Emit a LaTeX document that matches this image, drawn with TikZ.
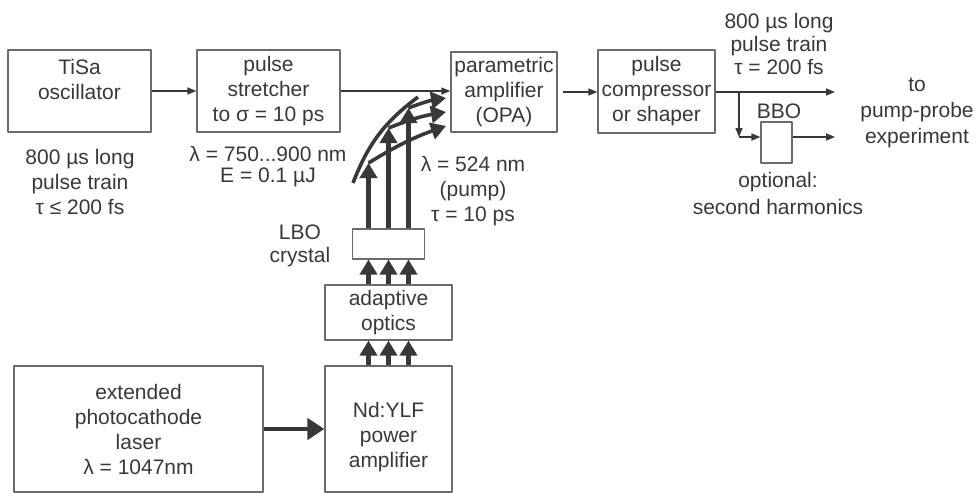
\documentclass[tikz,border=0pt]{standalone}
\usepackage{fontspec}
\setmainfont{Liberation Sans}
\usetikzlibrary{arrows.meta}
\definecolor{ink}{gray}{0.22}
\definecolor{rim}{gray}{0.42}
\tikzset{
  box/.style={draw=rim, line width=1.2pt, inner sep=0pt, align=center, text=ink},
  txt/.style={align=center, inner sep=0pt, text=ink},
  beam/.style={draw=ink, line width=1.4pt, -{Triangle[width=7pt,length=9pt]}},
  pump/.style={draw=ink, line width=4.2pt, line cap=butt, -{Triangle[width=17pt,length=15pt]}},
}
\begin{document}
\begin{tikzpicture}[x=1pt, y=-1pt, line join=round, font=\fontsize{21}{25}\selectfont]
  \useasboundingbox (0,0) rectangle (976,495);
  % the seed line, left to right
  \node[box, minimum width=143, minimum height=82] (tisa) at (79.5,91) {};
  \node[txt] (tisatxt) at (79.5,79) {TiSa\\oscillator};
  \node[box, minimum width=143, minimum height=82] (stretcher) at (268.5,91) {pulse\\stretcher\\to σ = 10 ps};
  \node[box, minimum width=106, minimum height=80] (opa) at (504,92) {parametric\\amplifier\\(OPA)};
  \node[box, minimum width=117, minimum height=83] (compressor) at (656.5,91.5) {pulse\\compressor\\or shaper};
  \node[box, minimum width=31, minimum height=41] (bbo) at (776.5,142.5) {};
  % the pump line, bottom up
  \node[box, minimum width=249, minimum height=126] (laser) at (138.5,429) {extended\\photocathode\\laser\\λ = 1047nm};
  \node[box, minimum width=127, minimum height=126] (ndylf) at (388.5,429) {};
  \node[txt] (ndylftxt) at (388.5,437) {Nd:YLF\\power\\amplifier};
  \node[box, minimum width=127, minimum height=55] (adaptive) at (388.5,312.5) {adaptive\\optics};
  \node[box, minimum width=72, minimum height=30] (lbo) at (388.5,244) {};
  % the free labels
  \node[txt] (trainin) at (80,182) {800 µs long\\pulse train\\τ ≤ 200 fs};
  \node[txt, font=\fontsize{21}{21}\selectfont] (specs) at (268,167) {λ = 750...900 nm\\E = 0.1 µJ};
  \node[txt] (pumplbl) at (473,191) {λ = 524 nm\\(pump)\\τ = 10 ps};
  \node[txt, font=\fontsize{21}{23}\selectfont] (lbolbl) at (300,246) {LBO\\crystal};
  \node[txt, font=\fontsize{21}{23}\selectfont] (trainout) at (779,44) {800 µs long\\pulse train\\τ = 200 fs};
  \node[txt, font=\fontsize{21}{26}\selectfont] (dest) at (917,113) {to\\pump-probe\\experiment};
  \node[txt, font=\fontsize{21}{27}\selectfont] (optlbl) at (778,193) {optional:\\second harmonics};
  \node[txt] (bbolbl) at (779,111) {BBO};
  % thin beams
  \coordinate (fork) at (739,92);
  \coordinate (corner) at (739,137);
  \coordinate (outa) at (835,92);
  \coordinate (outb) at (835,137);
  \draw[beam] (tisa) -- (stretcher);
  \draw[beam] (stretcher.east) -- (stretcher.east -| opa.west);
  \draw[beam, shorten <=5pt] (opa.east) -- (opa.east -| compressor.west);
  \draw[beam] (compressor.east |- outa) -- (outa);
  \draw[beam] (fork) -- (corner);
  \draw[beam] (corner) -- (bbo.west |- corner);
  \draw[beam] (bbo.east |- corner) -- (outb);
  % thick pump beams
  \draw[pump, line width=4.6pt, -{Triangle[width=21pt,length=17pt]}] (laser) -- (ndylf);
  \foreach \dx in {-20,0,20} {
    \draw[pump] ([xshift=\dx]ndylf.north) -- ([xshift=\dx]adaptive.south);
    \draw[pump] ([xshift=\dx]adaptive.north) -- ([xshift=\dx]lbo.south);
  }
  \coordinate (tipa) at (368.5,163);
  \coordinate (tipb) at (388.5,128);
  \coordinate (tipc) at (408.5,108);
  \draw[pump] ([xshift=-20]lbo.north) -- (tipa);
  \draw[pump] (lbo.north) -- (tipb);
  \draw[pump] ([xshift=20]lbo.north) -- (tipc);
  % the curved mirror and the reflected pump
  \coordinate (mlo) at (353,183);
  \coordinate (mhi) at (418,97);
  \draw[ink, line width=3.6pt] (mlo) to[bend left=16] (mhi);
  \coordinate (ina) at (446,126);
  \coordinate (inb) at (446,112);
  \coordinate (inc) at (446,98);
  \draw[pump, line width=3.6pt] (tipa) to[bend left=6] (ina);
  \draw[pump, line width=3.6pt] (tipb) to[bend left=6] (inb);
  \draw[pump, line width=3.6pt] (tipc) to[bend left=6] (inc);
\end{tikzpicture}
\end{document}
